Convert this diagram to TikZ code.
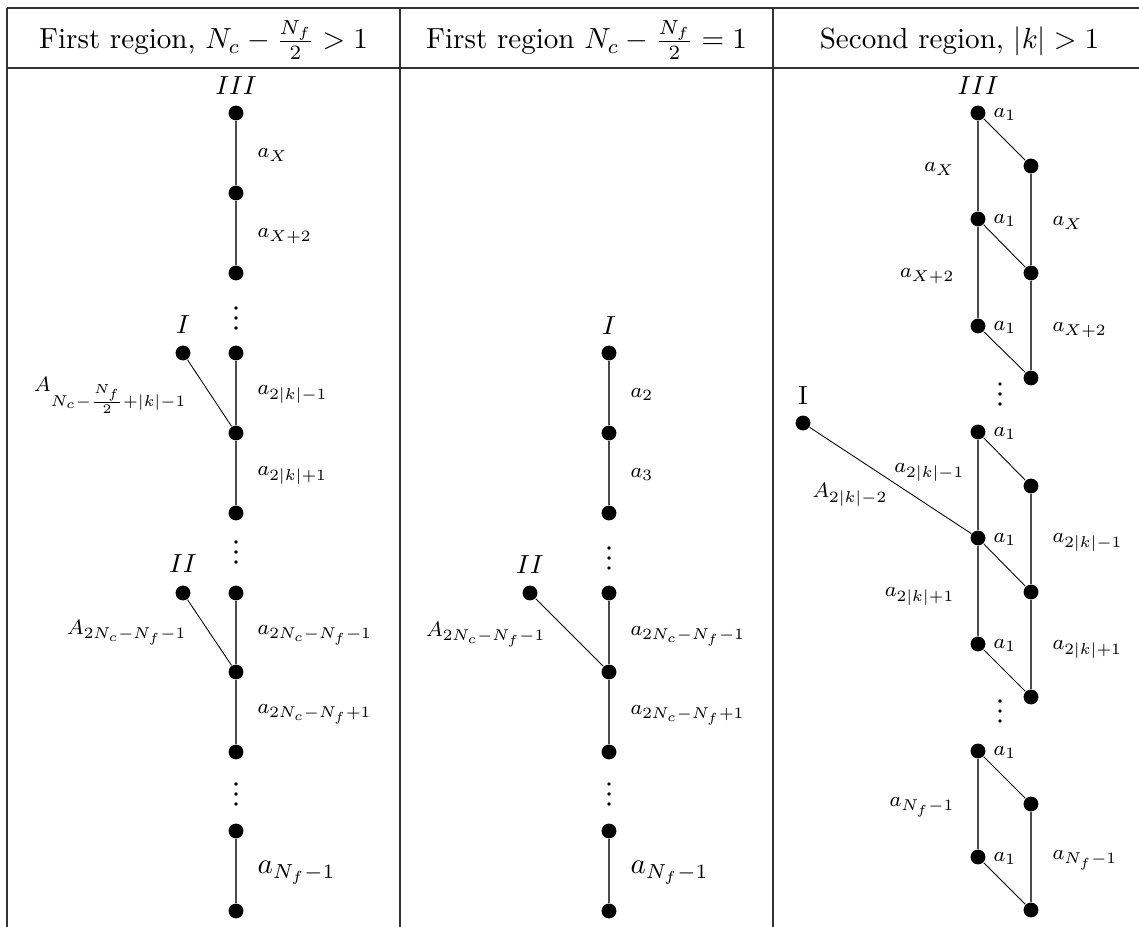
\documentclass[tikz,border=0pt]{standalone}
\begin{document}
\begin{tikzpicture}[x=0.344pt,y=-0.344pt,
  dot/.style={circle,fill=black,inner sep=0pt,minimum size=5.1pt},
  sdot/.style={circle,fill=black,inner sep=0pt,minimum size=1.3pt},
  lbl/.style={inner sep=0pt,font=\footnotesize,scale=0.9},
  blbl/.style={inner sep=0pt},
  tlbl/.style={inner sep=0pt,font=\small},
  conn/.style={line width=0.35pt,black!70},
  diag/.style={line width=0.3pt,black},
  rulel/.style={line width=0.4pt,black!80}]
\useasboundingbox (0,0) rectangle (1139,927);
\clip (0,0) rectangle (1139,927);
% ---------- table rules ----------
\draw[rulel] (7,8) -- (1150,8);
\draw[rulel] (7,68) -- (1150,68);
\draw[rulel] (7,8) -- (7,940);
\draw[rulel] (400,8) -- (400,940);
\draw[rulel] (773,8) -- (773,940);
\draw[rulel] (1146,8) -- (1146,940);
% ---------- headers ----------
\node[anchor=base,inner sep=0pt] (h1) at (203.5,49) {First region, $N_c-\frac{N_f}{2}>1$};
\node[anchor=base,inner sep=0pt] (h2) at (586.5,49) {First region $N_c-\frac{N_f}{2}=1$};
\node[anchor=base,inner sep=0pt] (h3) at (959.5,49) {Second region, $|k|>1$};
% ---------- column 1 ----------
\node[dot] (L1) at (236,113) {};
\node[dot] (L2) at (236,193) {};
\node[dot] (L3) at (236,273) {};
\node[dot] (L4) at (236,353) {};
\node[dot] (L5) at (236,433) {};
\node[dot] (L6) at (236,513) {};
\node[dot] (L7) at (236,593) {};
\node[dot] (L8) at (236,672) {};
\node[dot] (L9) at (236,752) {};
\node[dot] (L10) at (236,831) {};
\node[dot] (L11) at (236,911) {};
\node[dot] (LI) at (183,353) {};
\node[dot] (LII) at (183,593) {};
\draw[conn] (L1) -- (L2) -- (L3);
\draw[conn] (L4) -- (L5) -- (L6);
\draw[conn] (L7) -- (L8) -- (L9);
\draw[conn] (L10) -- (L11);
\draw[diag] (LI) -- (L5);
\draw[diag] (LII) -- (L8);
\node[sdot] (Ld1) at (236,308) {};
\node[sdot] (Ld2) at (236,318) {};
\node[sdot] (Ld3) at (236,328) {};
\node[sdot] (Ld4) at (236,542) {};
\node[sdot] (Ld5) at (236,552) {};
\node[sdot] (Ld6) at (236,562) {};
\node[sdot] (Ld7) at (236,784) {};
\node[sdot] (Ld8) at (236,794) {};
\node[sdot] (Ld9) at (236,804) {};
\node[tlbl,anchor=base] (LtIII) at (236,95) {$III$};
\node[tlbl,anchor=base] (LtI) at (183,334) {$I$};
\node[tlbl,anchor=base] (LtII) at (183,573) {$II$};
\node[lbl,anchor=base west] (La1) at (257,158) {$a_X$};
\node[lbl,anchor=base west] (La2) at (257,238) {$a_{X+2}$};
\node[lbl,anchor=base west] (La3) at (257,395) {$a_{2|k|-1}$};
\node[lbl,anchor=base west] (La4) at (257,476) {$a_{2|k|+1}$};
\node[lbl,anchor=base west] (La5) at (257,635) {$a_{2N_c-N_f-1}$};
\node[lbl,anchor=base west] (La6) at (257,714) {$a_{2N_c-N_f+1}$};
\node[blbl,anchor=base west] (La7) at (257,874) {$a_{N_f-1}$};
\node[lbl,anchor=base east] (LA1) at (187,392) {$A_{N_c-\frac{N_f}{2}+|k|-1}$};
\node[lbl,anchor=base east] (LA2) at (187,635) {$A_{2N_c-N_f-1}$};
% ---------- column 2 ----------
\node[dot] (M1) at (609,353) {};
\node[dot] (M2) at (609,433) {};
\node[dot] (M3) at (609,513) {};
\node[dot] (M4) at (609,593) {};
\node[dot] (M5) at (609,672) {};
\node[dot] (M6) at (609,752) {};
\node[dot] (M7) at (609,831) {};
\node[dot] (M8) at (609,911) {};
\node[dot] (MII) at (530,593) {};
\draw[conn] (M1) -- (M2) -- (M3);
\draw[conn] (M4) -- (M5) -- (M6);
\draw[conn] (M7) -- (M8);
\draw[diag] (MII) -- (M5);
\node[sdot] (Md1) at (609,548) {};
\node[sdot] (Md2) at (609,558) {};
\node[sdot] (Md3) at (609,568) {};
\node[sdot] (Md4) at (609,784) {};
\node[sdot] (Md5) at (609,794) {};
\node[sdot] (Md6) at (609,804) {};
\node[tlbl,anchor=base] (MtI) at (609,335) {$I$};
\node[tlbl,anchor=base] (MtII) at (530,574) {$II$};
\node[lbl,anchor=base west] (Ma1) at (630,398) {$a_2$};
\node[lbl,anchor=base west] (Ma2) at (630,478) {$a_3$};
\node[lbl,anchor=base west] (Ma3) at (630,636) {$a_{2N_c-N_f-1}$};
\node[lbl,anchor=base west] (Ma4) at (630,715) {$a_{2N_c-N_f+1}$};
\node[blbl,anchor=base west] (Ma5) at (630,874) {$a_{N_f-1}$};
\node[lbl,anchor=base east] (MA1) at (546,637) {$A_{2N_c-N_f-1}$};
% ---------- column 3 ----------
\node[dot] (P1) at (978,113) {};
\node[dot] (P2) at (978,219) {};
\node[dot] (P3) at (978,326) {};
\node[dot] (P4) at (978,432) {};
\node[dot] (P5) at (978,538) {};
\node[dot] (P6) at (978,644) {};
\node[dot] (P7) at (978,751) {};
\node[dot] (P8) at (978,857) {};
\node[dot] (Q1) at (1031,166) {};
\node[dot] (Q2) at (1031,273) {};
\node[dot] (Q3) at (1031,378) {};
\node[dot] (Q4) at (1031,486) {};
\node[dot] (Q5) at (1031,592) {};
\node[dot] (Q6) at (1031,697) {};
\node[dot] (Q7) at (1031,804) {};
\node[dot] (Q8) at (1031,910) {};
\node[dot] (RI) at (803,423) {};
\draw[conn] (P1) -- (P2) -- (P3);
\draw[conn] (P4) -- (P5) -- (P6);
\draw[conn] (P7) -- (P8);
\draw[conn] (Q1) -- (Q2) -- (Q3);
\draw[conn] (Q4) -- (Q5) -- (Q6);
\draw[conn] (Q7) -- (Q8);
\draw[diag] (P1) -- (Q1);
\draw[diag] (P2) -- (Q2);
\draw[diag] (P3) -- (Q3);
\draw[diag] (P4) -- (Q4);
\draw[diag] (P5) -- (Q5);
\draw[diag] (P6) -- (Q6);
\draw[diag] (P7) -- (Q7);
\draw[diag] (P8) -- (Q8);
\draw[diag] (RI) -- (P5);
\node[sdot] (Rd1) at (1000,384) {};
\node[sdot] (Rd2) at (1000,394) {};
\node[sdot] (Rd3) at (1000,404) {};
\node[sdot] (Rd4) at (1000,701) {};
\node[sdot] (Rd5) at (1000,711) {};
\node[sdot] (Rd6) at (1000,721) {};
\node[tlbl,anchor=base] (RtIII) at (978,95) {$III$};
\node[tlbl,anchor=base] (RtI) at (803,405) {I};
\node[lbl,anchor=base west] (Rb1) at (993,118) {$a_1$};
\node[lbl,anchor=base west] (Rb2) at (993,224) {$a_1$};
\node[lbl,anchor=base west] (Rb3) at (993,331) {$a_1$};
\node[lbl,anchor=base west] (Rb4) at (993,437) {$a_1$};
\node[lbl,anchor=base west] (Rb5) at (993,543) {$a_1$};
\node[lbl,anchor=base west] (Rb6) at (993,649) {$a_1$};
\node[lbl,anchor=base west] (Rb7) at (993,756) {$a_1$};
\node[lbl,anchor=base west] (Rb8) at (993,862) {$a_1$};
\node[lbl,anchor=base east] (Rl1) at (955,172) {$a_X$};
\node[lbl,anchor=base east] (Rl2) at (955,278) {$a_{X+2}$};
\node[lbl,anchor=base east] (Rl3) at (965,473) {$a_{2|k|-1}$};
\node[lbl,anchor=base east] (Rl4) at (955,597) {$a_{2|k|+1}$};
\node[lbl,anchor=base east] (Rl5) at (955,807) {$a_{N_f-1}$};
\node[lbl,anchor=base west] (RA) at (812,498) {$A_{2|k|-2}$};
\node[lbl,anchor=base west] (Rr1) at (1052,226) {$a_X$};
\node[lbl,anchor=base west] (Rr2) at (1052,332) {$a_{X+2}$};
\node[lbl,anchor=base west] (Rr3) at (1052,543) {$a_{2|k|-1}$};
\node[lbl,anchor=base west] (Rr4) at (1052,650) {$a_{2|k|+1}$};
\node[lbl,anchor=base west] (Rr5) at (1052,860) {$a_{N_f-1}$};
\end{tikzpicture}
\end{document}
